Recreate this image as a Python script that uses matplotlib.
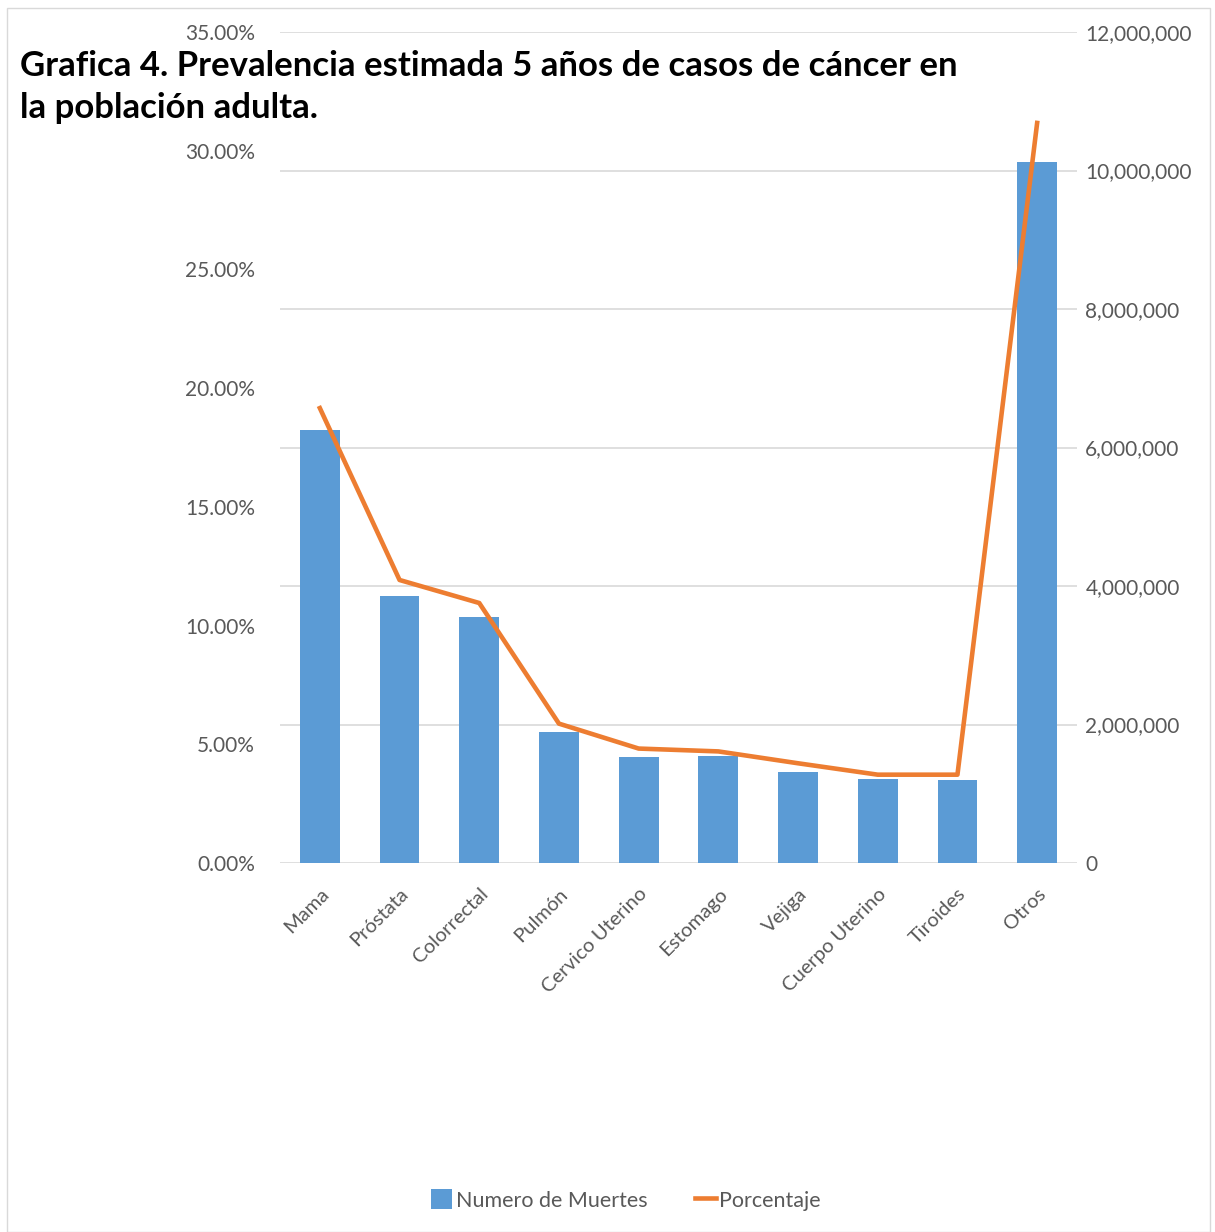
import numpy as np
import matplotlib
matplotlib.use("Agg")
import matplotlib.pyplot as plt
from matplotlib.patches import Rectangle, Patch
from matplotlib.lines import Line2D
from matplotlib.ticker import FuncFormatter, MultipleLocator

# datos
categorias = ["Mama", "Próstata", "Colorrectal", "Pulmón", "Cervico Uterino",
              "Estomago", "Vejiga", "Cuerpo Uterino", "Tiroides", "Otros"]
muertes = [6253000, 3856000, 3552000, 1892000, 1535000,
           1540000, 1314000, 1209000, 1204000, 10127000]
porcentaje = [19.16, 11.92, 10.95, 5.87, 4.82, 4.70, 4.20, 3.72, 3.72, 31.17]

azul = "#5B9BD5"
naranja = "#ED7D31"
gris = "#595959"
plt.rcParams["font.family"] = ["Lato", "DejaVu Sans"]

fig = plt.figure(figsize=(12.15, 12.32), dpi=100)
ax = fig.add_axes([280 / 1215, 1 - 863 / 1232, 797 / 1215, 831 / 1232])
ax2 = ax.twinx()

x = np.arange(len(categorias))

# barras en el eje derecho, linea en el izquierdo
ax2.bar(x, muertes, width=0.5, color=azul, zorder=2)
ax2.set_ylim(0, 12000000)
ax2.yaxis.set_major_locator(MultipleLocator(2000000))
ax2.yaxis.set_major_formatter(FuncFormatter(lambda v, p: "{:,.0f}".format(v)))

ax.set_ylim(0, 35)
ax.set_xlim(-0.5, len(categorias) - 0.5)
ax.yaxis.set_major_locator(MultipleLocator(5))
ax.yaxis.set_major_formatter(FuncFormatter(lambda v, p: "{:.2f}%".format(v)))

# la linea va encima de las barras
ax.set_zorder(ax2.get_zorder() + 1)
ax.patch.set_visible(False)
ax.plot(x, porcentaje, color=naranja, linewidth=3.3, solid_joinstyle="round", zorder=3)

for a in (ax, ax2):
    for s in a.spines.values():
        s.set_visible(False)
    a.tick_params(length=0, colors=gris, labelsize=15)

ax2.grid(axis="y", color="#D9D9D9", linewidth=1.2, zorder=0)
ax2.set_axisbelow(True)
ax.tick_params(axis="y", pad=18)
ax2.tick_params(axis="y", pad=6)

ax.set_xticks(x)
ax.set_xticklabels(categorias, rotation=45, ha="right", rotation_mode="anchor",
                   fontsize=14.5, color=gris)
ax.tick_params(axis="x", pad=16)

fig.text(20 / 1215, 1 - 87 / 1232,
         "Grafica 4. Prevalencia estimada 5 años de casos de cáncer en\nla población adulta.",
         fontsize=25, fontweight="bold", color="black", ha="left", va="center",
         linespacing=1.4)

handles = [Patch(facecolor=azul, label="Numero de Muertes"),
           Line2D([0], [0], color=naranja, linewidth=3.3, label="Porcentaje")]
fig.legend(handles=handles, loc="center", bbox_to_anchor=(626 / 1215, 1 - 1200 / 1232),
           ncol=2, frameon=False, fontsize=15.5, labelcolor=gris,
           handlelength=1.0, handleheight=1.0, handletextpad=0.15, columnspacing=2.2)

fig.patches.append(Rectangle((7 / 1215, 0), 1203 / 1215, 1 - 8 / 1232,
                             transform=fig.transFigure, fill=False,
                             edgecolor="#D9D9D9", linewidth=1.0))

fig.savefig("out.png", dpi=100, facecolor="white")
